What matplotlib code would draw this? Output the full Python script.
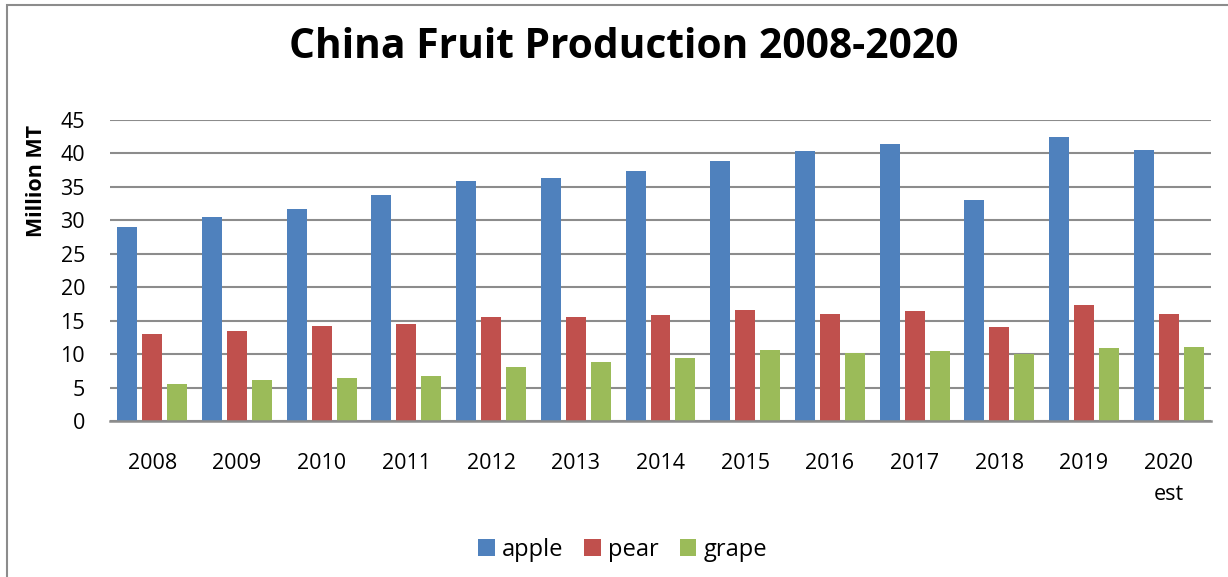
import numpy as np
import matplotlib.pyplot as plt
from matplotlib.patches import Rectangle

years = ["2008", "2009", "2010", "2011", "2012", "2013", "2014",
         "2015", "2016", "2017", "2018", "2019", "2020\nest"]
apple = [29.0, 30.5, 31.7, 33.8, 35.9, 36.3, 37.4, 38.9, 40.4, 41.4, 33.0, 42.5, 40.5]
pear = [13.0, 13.4, 14.2, 14.5, 15.5, 15.5, 15.8, 16.6, 16.0, 16.4, 14.0, 17.3, 16.0]
grape = [5.6, 6.1, 6.5, 6.8, 8.0, 8.8, 9.4, 10.6, 10.1, 10.4, 10.0, 10.9, 11.0]

plt.rcParams['font.family'] = ['Open Sans', 'DejaVu Sans']

fig = plt.figure(figsize=(12.28, 5.77), dpi=100)
ax = fig.add_axes([110/1228, 1 - 421/577, 1101/1228, 301/577])

x = np.arange(len(years))
w = 0.236
step = 0.295
ax.bar(x - step, apple, w, color='#4F81BD', label='apple', zorder=3)
ax.bar(x, pear, w, color='#C0504D', label='pear', zorder=3)
ax.bar(x + step, grape, w, color='#9BBB59', label='grape', zorder=3)

ax.set_xlim(-0.5, len(years) - 0.5)
ax.set_ylim(0, 45)
ax.set_yticks(range(0, 46, 5))
ax.set_xticks(x)
ax.set_xticklabels(years, fontsize=15.5, linespacing=1.65)
ax.tick_params(axis='y', labelsize=15.5, length=0, pad=18)
ax.tick_params(axis='x', length=0, pad=23)
ax.yaxis.grid(True, color='#8c8c8c', linewidth=1.5, zorder=0)
for s in ['top', 'right', 'left']:
    ax.spines[s].set_visible(False)
ax.spines['bottom'].set_color('#8c8c8c')
ax.spines['bottom'].set_linewidth(1.8)
ax.spines['bottom'].set_zorder(4)

ax.set_ylabel('Million MT', fontsize=15.5, fontweight='bold')
ax.yaxis.set_label_coords(-0.0572, 0.797)

fig.text(0.5077, 0.918, 'China Fruit Production 2008-2020', ha='center', va='center',
         fontsize=29.3, fontweight='bold')

ax.legend(loc='center', bbox_to_anchor=(0.507, 1 - 550/577), bbox_transform=fig.transFigure,
          ncol=3, frameon=False, fontsize=17, handlelength=0.7, handleheight=0.7,
          handletextpad=0.3, columnspacing=0.9)

fig.patches.append(Rectangle((7/1228, -0.1), 1.2, 1 - 5/577 + 0.1, transform=fig.transFigure,
                             fill=False, edgecolor='#8c8c8c', linewidth=1.5))

fig.savefig('out.png', dpi=100)
